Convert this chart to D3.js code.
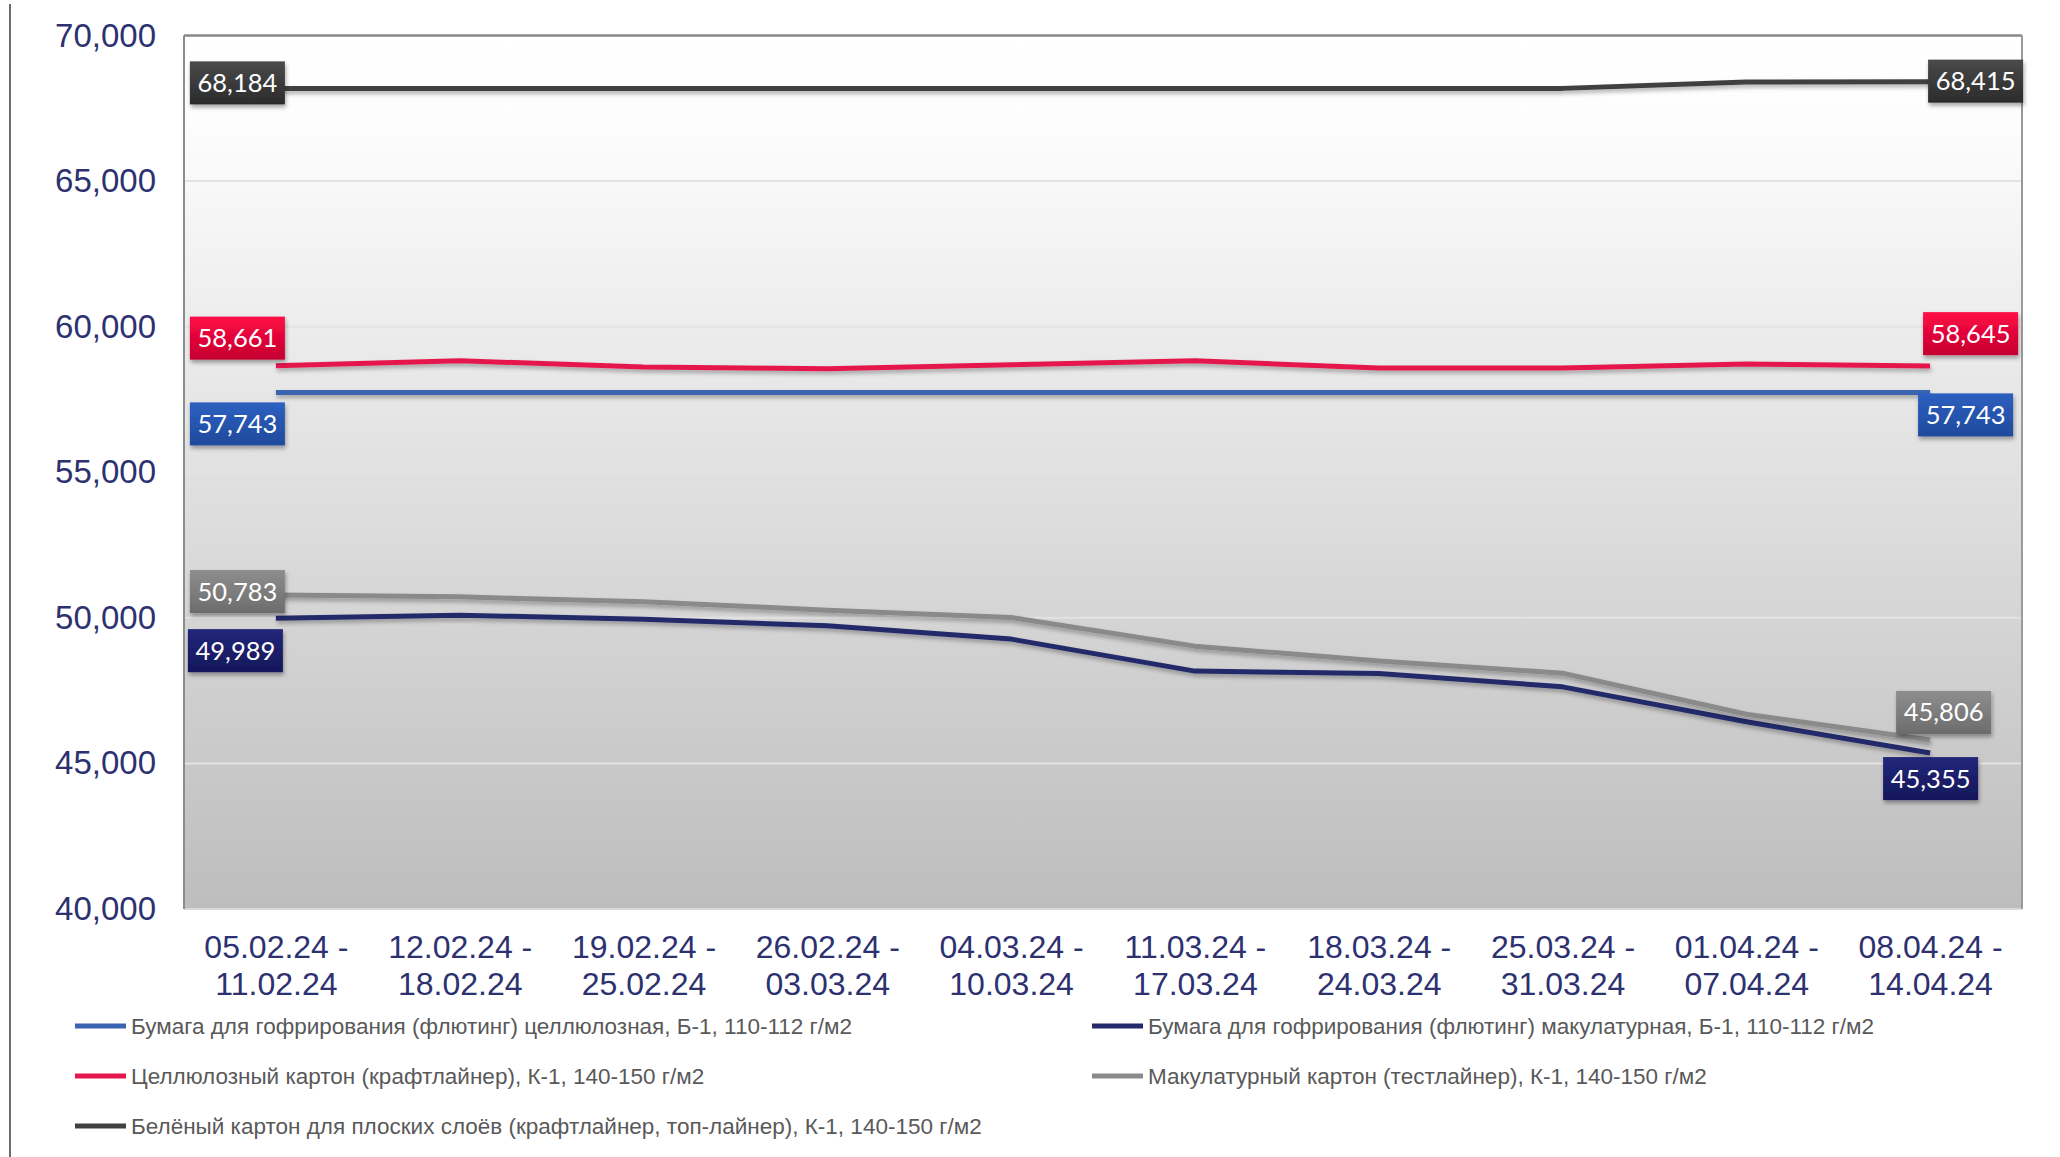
<!DOCTYPE html>
<html>
<head>
<meta charset="utf-8">
<script src="https://cdn.jsdelivr.net/npm/d3@7"></script>
<style>
  body { margin: 0; background: #fff; }
</style>
</head>
<body>
<div id="chart"></div>
<script>
// data
var periodStart = ["05.02.24", "12.02.24", "19.02.24", "26.02.24", "04.03.24", "11.03.24", "18.03.24", "25.03.24", "01.04.24", "08.04.24"];
var periodEnd = ["11.02.24", "18.02.24", "25.02.24", "03.03.24", "10.03.24", "17.03.24", "24.03.24", "31.03.24", "07.04.24", "14.04.24"];

var seriesNames = [
    "Бумага для гофрирования (флютинг) целлюлозная, Б-1, 110-112 г/м2",
    "Бумага для гофрирования (флютинг) макулатурная, Б-1, 110-112 г/м2",
    "Целлюлозный картон (крафтлайнер), К-1, 140-150 г/м2",
    "Макулатурный картон (тестлайнер), К-1, 140-150 г/м2",
    "Белёный картон для плоских слоёв (крафтлайнер, топ-лайнер), К-1, 140-150 г/м2"
];

var flutingPulp = [57743, 57743, 57743, 57743, 57743, 57743, 57743, 57743, 57743, 57743];
var flutingRecycled = [49989, 50090, 49955, 49725, 49270, 48170, 48090, 47630, 46430, 45355];
var kraftliner = [58661, 58830, 58613, 58555, 58692, 58830, 58580, 58580, 58720, 58645];
var testliner = [50783, 50720, 50550, 50263, 50014, 49028, 48514, 48100, 46690, 45806];
var whiteTop = [68184, 68184, 68184, 68184, 68184, 68184, 68184, 68184, 68400, 68415];

var yTicks = [40000, 45000, 50000, 55000, 60000, 65000, 70000];

// colors: line, box top, box bottom
var lineColors = ["#3a63b0", "#24296b", "#e5174c", "#8a8a8a", "#404040"];
var boxTop = ["#2d60c0", "#23267a", "#ff0a45", "#8e8e8e", "#4a4a4a"];
var boxBottom = ["#1f4a9c", "#15175a", "#c4002f", "#6c6c6c", "#2b2b2b"];

// label offsets (box left / top relative to the point) for first and last value
var startOffsets = [[-86, 10], [-88, 11], [-86, -49], [-86, -25], [-86, -27]];
var endOffsets = [[-12, 1], [-47, 4], [-7, -54], [-34, -49], [-2, -22]];

var allValues = [flutingPulp, flutingRecycled, kraftliner, testliner, whiteTop];

var margin = {top: 35.5, right: 38, bottom: 248, left: 184},
    width = 2060 - margin.left - margin.right,
    height = 1157 - margin.top - margin.bottom;

var svg = d3.select("#chart")
    .append("svg")
    .attr("width", 2060)
    .attr("height", 1157)
    .style("display", "block");

var defs = svg.append("defs");

// background gradient of the plot area
var bg = defs.append("linearGradient")
    .attr("id", "plotBg")
    .attr("x1", 0).attr("y1", 0).attr("x2", 0).attr("y2", 1);
bg.append("stop").attr("offset", "0%").attr("stop-color", "#ffffff");
bg.append("stop").attr("offset", "10%").attr("stop-color", "#fdfdfd");
bg.append("stop").attr("offset", "100%").attr("stop-color", "#bdbdbd");

// shadow for boxes
var shadow = defs.append("filter")
    .attr("id", "shadow")
    .attr("x", "-10%").attr("y", "-50%")
    .attr("width", "130%").attr("height", "200%");
shadow.append("feDropShadow")
    .attr("dx", 1).attr("dy", 3)
    .attr("stdDeviation", 2)
    .attr("flood-color", "#000")
    .attr("flood-opacity", 0.35);

// shadow for lines (user space, so flat lines still render)
var lineShadow = defs.append("filter")
    .attr("id", "lineShadow")
    .attr("filterUnits", "userSpaceOnUse")
    .attr("x", -20).attr("y", -20)
    .attr("width", width + 40).attr("height", height + 40);
lineShadow.append("feDropShadow")
    .attr("dx", 1).attr("dy", 3)
    .attr("stdDeviation", 2)
    .attr("flood-color", "#000")
    .attr("flood-opacity", 0.3);

boxTop.forEach(function(c, i) {
    var g = defs.append("linearGradient")
        .attr("id", "box" + i)
        .attr("x1", 0).attr("y1", 0).attr("x2", 0).attr("y2", 1);
    g.append("stop").attr("offset", "0%").attr("stop-color", c);
    g.append("stop").attr("offset", "100%").attr("stop-color", boxBottom[i]);
});

// thin line at the far left
svg.append("line")
    .attr("x1", 10).attr("x2", 10)
    .attr("y1", 4).attr("y2", 1157)
    .attr("stroke", "#3a3a3a")
    .attr("stroke-width", 1.5);

var chart = svg.append("g")
    .attr("transform", "translate(" + margin.left + "," + margin.top + ")");

var x = d3.scalePoint()
    .domain(d3.range(periodStart.length))
    .range([0, width])
    .padding(0.5);

var y = d3.scaleLinear()
    .domain([40000, 70000])
    .range([height, 0]);

chart.append("rect")
    .attr("width", width)
    .attr("height", height)
    .attr("fill", "url(#plotBg)");

// gridlines
chart.selectAll(".grid")
    .data(yTicks.slice(1, -1))
    .enter()
    .append("line")
    .attr("x1", 0)
    .attr("x2", width)
    .attr("y1", function(d) { return y(d); })
    .attr("y2", function(d) { return y(d); })
    .attr("stroke", "#e3e3e3")
    .attr("stroke-width", 2);

// frame
chart.append("line").attr("x1", 0).attr("x2", width).attr("y1", height).attr("y2", height)
    .attr("stroke", "#d9d9d9").attr("stroke-width", 2);
chart.append("line").attr("x1", 0).attr("x2", width).attr("y1", 0).attr("y2", 0)
    .attr("stroke", "#888").attr("stroke-width", 2.5);
chart.append("line").attr("x1", 0).attr("x2", 0).attr("y1", 0).attr("y2", height)
    .attr("stroke", "#8c8c8c").attr("stroke-width", 2);
chart.append("line").attr("x1", width).attr("x2", width).attr("y1", 0).attr("y2", height)
    .attr("stroke", "#9a9a9a").attr("stroke-width", 2);

// Y axis
var yAxis = chart.append("g")
    .call(d3.axisLeft(y).tickValues(yTicks).tickFormat(d3.format(",")).tickSize(0).tickPadding(28));
yAxis.select(".domain").remove();
yAxis.selectAll("text")
    .style("font-family", "'Liberation Sans', Arial, sans-serif")
    .style("font-size", "33px")
    .attr("fill", "#2d3170");

// X axis, two lines per label
var xAxis = chart.append("g")
    .attr("transform", "translate(0," + height + ")")
    .call(d3.axisBottom(x).tickSize(0));
xAxis.select(".domain").remove();
xAxis.selectAll("text").remove();
xAxis.selectAll(".tick").append("text")
    .attr("text-anchor", "middle")
    .style("font-family", "'Liberation Sans', Arial, sans-serif")
    .style("font-size", "32px")
    .attr("fill", "#2d3170")
    .each(function(d) {
        var t = d3.select(this);
        t.append("tspan").attr("x", 0).attr("y", 49).text(periodStart[d] + " -");
        t.append("tspan").attr("x", 0).attr("y", 86).text(periodEnd[d]);
    });

// Lines
var line = d3.line()
    .x(function(d, i) { return x(i); })
    .y(function(d) { return y(d); });

chart.selectAll(".series")
    .data(allValues)
    .enter()
    .append("path")
    .attr("d", line)
    .attr("fill", "none")
    .attr("stroke", function(d, i) { return lineColors[i]; })
    .attr("stroke-width", 5)
    .attr("stroke-linejoin", "round")
    .attr("filter", "url(#lineShadow)");

// data labels on first and last points
var labels = [];
allValues.forEach(function(vals, i) {
    labels.push({s: i, idx: 0, v: vals[0], off: startOffsets[i]});
    labels.push({s: i, idx: vals.length - 1, v: vals[vals.length - 1], off: endOffsets[i]});
});

var boxW = 95, boxH = 43;
var lab = chart.selectAll(".lab")
    .data(labels)
    .enter()
    .append("g")
    .attr("transform", function(d) {
        return "translate(" + (x(d.idx) + d.off[0]) + "," + (y(d.v) + d.off[1]) + ")";
    });

lab.append("rect")
    .attr("width", boxW)
    .attr("height", boxH)
    .attr("fill", function(d) { return "url(#box" + d.s + ")"; })
    .attr("filter", "url(#shadow)");

lab.append("text")
    .attr("x", boxW / 2)
    .attr("y", boxH / 2 + 9)
    .attr("text-anchor", "middle")
    .style("font-family", "Lato, 'Open Sans', sans-serif")
    .style("font-size", "25.5px")
    .attr("fill", "#fff")
    .text(function(d) { return d3.format(",")(d.v); });

// Legend
var legend = svg.selectAll(".legend")
    .data(seriesNames)
    .enter()
    .append("g")
    .attr("transform", function(d, i) {
        var lx = (i % 2 === 0) ? 75 : 1092;
        var ly = 1026 + Math.floor(i / 2) * 50;
        return "translate(" + lx + "," + ly + ")";
    });

legend.append("line")
    .attr("x1", 0).attr("x2", 51)
    .attr("y1", 0).attr("y2", 0)
    .attr("stroke", function(d, i) { return lineColors[i]; })
    .attr("stroke-width", 5);

legend.append("text")
    .attr("x", 56)
    .attr("y", 8)
    .style("font-family", "'Liberation Sans', Arial, sans-serif")
    .style("font-size", "22.5px")
    .attr("fill", "#595959")
    .text(function(d) { return d; });
</script>
</body>
</html>
